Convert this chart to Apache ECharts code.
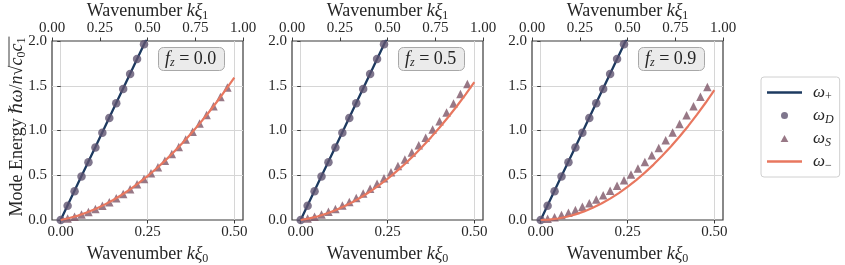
<!DOCTYPE html>
<html><head><meta charset="utf-8">
<script src="https://cdn.jsdelivr.net/npm/echarts@6/dist/echarts.min.js"></script>
<style>html,body{margin:0;padding:0;background:#fff}#c{width:845px;height:265px}</style>
</head><body><div id="c"></div>
<script>
// ---------------- data ----------------
const fzValues = ['0.0', '0.5', '0.9'];
const bottomTicks = [0, 0.25, 0.5];
const topTicks = [0, 0.25, 0.5, 0.75, 1.0];
const yTicks = [0, 0.5, 1.0, 1.5, 2.0];

const kPlus = [0, 0.05, 0.10, 0.15, 0.20, 0.25];
const omegaPlus = [0, 0.41, 0.815, 1.225, 1.635, 2.045];

const kD = [0, 0.02, 0.04, 0.06, 0.08, 0.10, 0.12, 0.14, 0.16, 0.18, 0.20, 0.22, 0.24];
const omegaD = [0, 0.16, 0.32, 0.485, 0.645, 0.81, 0.975, 1.14, 1.305, 1.465, 1.63, 1.80, 1.965];

const kS = [0.02, 0.04, 0.06, 0.08, 0.10, 0.12, 0.14, 0.16, 0.18, 0.20, 0.22, 0.24,
            0.26, 0.28, 0.30, 0.32, 0.34, 0.36, 0.38, 0.40, 0.42, 0.44, 0.46, 0.48];
const omegaS_f00 = [0.017, 0.037, 0.062, 0.090, 0.123, 0.159, 0.199, 0.243, 0.291, 0.343, 0.399, 0.459,
                    0.522, 0.590, 0.661, 0.737, 0.816, 0.899, 0.986, 1.077, 1.172, 1.270, 1.373, 1.480];
const omegaS_f05 = [0.017, 0.037, 0.062, 0.091, 0.124, 0.161, 0.202, 0.247, 0.296, 0.349, 0.406, 0.467,
                    0.533, 0.602, 0.675, 0.753, 0.834, 0.920, 1.010, 1.103, 1.201, 1.303, 1.409, 1.519];
const omegaS_f09 = [0.014, 0.032, 0.055, 0.081, 0.112, 0.147, 0.186, 0.229, 0.276, 0.328, 0.384, 0.444,
                    0.508, 0.576, 0.648, 0.724, 0.805, 0.890, 0.979, 1.072, 1.169, 1.271, 1.376, 1.486];

const kMinus = [0, 0.025, 0.05, 0.075, 0.10, 0.125, 0.15, 0.175, 0.20, 0.225, 0.25,
                0.275, 0.30, 0.325, 0.35, 0.375, 0.40, 0.425, 0.45, 0.475, 0.50];
const omegaMinus_f00 = [0, 0.022, 0.049, 0.083, 0.123, 0.169, 0.221, 0.279, 0.343, 0.414, 0.490,
                        0.573, 0.661, 0.756, 0.857, 0.964, 1.077, 1.196, 1.321, 1.453, 1.590];
const omegaMinus_f05 = [0, 0.018, 0.042, 0.073, 0.110, 0.153, 0.202, 0.257, 0.318, 0.386, 0.460,
                        0.540, 0.626, 0.719, 0.818, 0.923, 1.034, 1.151, 1.274, 1.404, 1.540];
const omegaMinus_f09 = [0, 0.005, 0.017, 0.036, 0.063, 0.096, 0.137, 0.184, 0.239, 0.301, 0.370,
                        0.446, 0.529, 0.619, 0.717, 0.821, 0.933, 1.051, 1.177, 1.310, 1.450];

const omegaS = [omegaS_f00, omegaS_f05, omegaS_f09];
const omegaMinus = [omegaMinus_f00, omegaMinus_f05, omegaMinus_f09];

// ---------------- styling ----------------
const FF = '"Liberation Serif", "DejaVu Serif", serif';
const TXT = '#262626';
const SPINE = '#3a3a3a';
const C_PLUS = '#1d3a60', C_D = '#5f5470', C_S = '#7e5668', C_MINUS = '#e8775f';
const gridLefts = [52, 292, 532];
const GW = 191, GT = 41, GH = 179;
const TICK_FS = 15, TITLE_FS = 18;

const zip = (a, b) => a.map((v, i) => [v, b[i]]);

function richSet(fs, sfs, L) {
  return {
    i: { fontStyle: 'italic', fontSize: fs, fontFamily: FF, color: TXT, lineHeight: L },
    r: { fontSize: fs, fontFamily: FF, color: TXT, lineHeight: L },
    s: { fontSize: sfs, fontFamily: FF, color: TXT, lineHeight: sfs + 1, verticalAlign: 'bottom' },
    si: { fontSize: sfs, fontStyle: 'italic', fontFamily: FF, color: TXT, lineHeight: sfs + 1, verticalAlign: 'bottom' },
    w: { fontStyle: 'italic', fontSize: fs, fontFamily: FF, color: TXT, lineHeight: L, padding: [0, 0, 0, 6] }
  };
}

const grids = [], xAxes = [], yAxes = [], series = [], titles = [];
for (let p = 0; p < 3; p++) {
  grids.push({ left: gridLefts[p], top: GT, width: GW, height: GH, show: true,
    borderColor: SPINE, borderWidth: 1.2, backgroundColor: 'transparent', containLabel: false,
    outerBoundsMode: 'none' });
  // bottom axis (k xi_0)
  xAxes.push({ type: 'value', gridIndex: p, position: 'bottom', min: -0.025, max: 0.525,
    axisLine: { show: false },
    axisTick: { show: true, inside: false, length: 3.5, lineStyle: { color: SPINE, width: 1 }, customValues: bottomTicks },
    axisLabel: { show: true, margin: 5, customValues: bottomTicks, formatter: v => v.toFixed(2),
      fontFamily: FF, fontSize: TICK_FS, color: TXT },
    splitLine: { show: true, lineStyle: { color: '#d6d6d6', width: 1 } },
    name: 'Wavenumber {i|kξ}{s|0}', nameLocation: 'middle', nameGap: 24, nameMoveOverlap: false,
    nameTextStyle: { fontFamily: FF, fontSize: TITLE_FS, color: TXT, lineHeight: 21, rich: richSet(TITLE_FS, 12, 21) }
  });
  // top axis (k xi_1)
  xAxes.push({ type: 'value', gridIndex: p, position: 'top', min: 0, max: 1, interval: 0.25,
    axisLine: { show: false },
    axisTick: { show: true, inside: false, length: 3.5, lineStyle: { color: SPINE, width: 1 } },
    axisLabel: { show: true, margin: 5, formatter: v => v.toFixed(2),
      fontFamily: FF, fontSize: TICK_FS, color: TXT, showMinLabel: true, showMaxLabel: true },
    splitLine: { show: false },
    name: 'Wavenumber {i|kξ}{s|1}', nameLocation: 'middle', nameGap: 19, nameMoveOverlap: false,
    nameTextStyle: { fontFamily: FF, fontSize: TITLE_FS, color: TXT, lineHeight: 21, rich: richSet(TITLE_FS, 12, 21) }
  });
  yAxes.push({ type: 'value', gridIndex: p, min: 0, max: 2, interval: 0.5,
    axisLine: { show: false },
    axisTick: { show: true, inside: false, length: 3.5, lineStyle: { color: SPINE, width: 1 } },
    axisLabel: { show: true, margin: 5, formatter: v => v.toFixed(1),
      fontFamily: FF, fontSize: TICK_FS, color: TXT, showMinLabel: true, showMaxLabel: true },
    splitLine: { show: true, showMinLine: false, showMaxLine: false, lineStyle: { color: '#d6d6d6', width: 1 } }
  });

  const xb = 2 * p;
  series.push({ type: 'line', name: 'ω+', xAxisIndex: xb, yAxisIndex: p, data: zip(kPlus, omegaPlus),
    showSymbol: false, symbol: 'none', color: C_PLUS, lineStyle: { color: C_PLUS, width: 2.3 }, z: 2, clip: true });
  series.push({ type: 'scatter', name: 'ωD', xAxisIndex: xb, yAxisIndex: p, data: zip(kD, omegaD),
    symbol: 'circle', symbolSize: 8.5, color: C_D, itemStyle: { color: C_D }, z: 3, clip: false });
  series.push({ type: 'scatter', name: 'ωS', xAxisIndex: xb, yAxisIndex: p, data: zip(kS, omegaS[p]),
    symbol: 'triangle', symbolSize: 8.5, color: C_S, itemStyle: { color: C_S }, z: 3, clip: false });
  series.push({ type: 'line', name: 'ω−', xAxisIndex: xb, yAxisIndex: p, data: zip(kMinus, omegaMinus[p]),
    showSymbol: false, symbol: 'none', color: C_MINUS, lineStyle: { color: C_MINUS, width: 2.2 }, z: 4, clip: true });

  titles.push({ text: '{i|f}{si|z}{r| = ' + fzValues[p] + '}', left: gridLefts[p] + 106, top: 47,
    padding: [2, 8, 2, 7], backgroundColor: '#ebebeb', borderColor: '#a8a8a8', borderWidth: 1, borderRadius: 5,
    textStyle: { fontFamily: FF, fontSize: 18, color: TXT, lineHeight: 20, fontWeight: 'normal', rich: richSet(18, 12, 20) } });
}

// ---- y-axis title (rotated, with the square-root overline) ----
const YFS = 18, YSFS = 12, YL = 22;
const yTokens = [['r', 'Mode Energy '], ['i', 'ℏω'], ['r', '/'], ['i', 'n'], ['r', '√'],
                 ['i', 'c'], ['s', '0'], ['i', 'c'], ['s', '1']];
const mctx = document.createElement('canvas').getContext('2d');
function tw(kind, t) {
  const fs = (kind === 's') ? YSFS : YFS;
  mctx.font = (kind === 'i' ? 'italic ' : '') + fs + 'px ' + FF;
  return mctx.measureText(t).width;
}
let yW = 0, ovStart = 0;
yTokens.forEach((tk, idx) => { yW += tw(tk[0], tk[1]); if (idx === 4) ovStart = yW; });
const yText = yTokens.map(tk => '{' + tk[0] + '|' + tk[1] + '}').join('');

const legendLabels = { 'ω+': '{w|ω}{s|+}', 'ωD': '{w|ω}{si|D}', 'ωS': '{w|ω}{si|S}', 'ω−': '{w|ω}{s|−}' };

const option = {
  animation: false,
  backgroundColor: '#ffffff',
  textStyle: { fontFamily: FF },
  title: titles,
  grid: grids,
  xAxis: xAxes,
  yAxis: yAxes,
  series: series,
  legend: {
    orient: 'vertical', left: 761, top: 77, padding: [5, 6, 5, 6],
    itemWidth: 35, itemHeight: 7, itemGap: 2, selectedMode: false,
    backgroundColor: '#ffffff', borderColor: '#d0d0d0', borderWidth: 1, borderRadius: 3,
    itemStyle: { borderWidth: 0 },
    textStyle: { fontFamily: FF, fontSize: 17, color: TXT, lineHeight: 21, rich: richSet(17, 12, 21) },
    formatter: n => legendLabels[n],
    data: [
      { name: 'ω+', icon: 'path://M0,0H35V2.5H0Z' },
      { name: 'ωD', icon: 'circle' },
      { name: 'ωS', icon: 'path://M5,0L10,9L0,9Z' },
      { name: 'ω−', icon: 'path://M0,0H35V2.5H0Z' }
    ]
  },
  graphic: [{
    type: 'group', x: 17, y: 127, rotation: Math.PI / 2,
    children: [
      { type: 'text', x: 0, y: 0, style: { text: yText, align: 'center', verticalAlign: 'middle',
          textAlign: 'center', textVerticalAlign: 'middle', fontSize: YFS, fontFamily: FF, fill: TXT,
          rich: richSet(YFS, YSFS, YL) } },
      { type: 'line', shape: { x1: -yW / 2 + ovStart - 0.5, y1: -8, x2: yW / 2 + 1, y2: -8 },
        style: { stroke: TXT, lineWidth: 0.9 } }
    ]
  }]
};

const chart = echarts.init(document.getElementById('c'), null, { renderer: 'canvas' });
chart.setOption(option);
</script>
</body></html>
